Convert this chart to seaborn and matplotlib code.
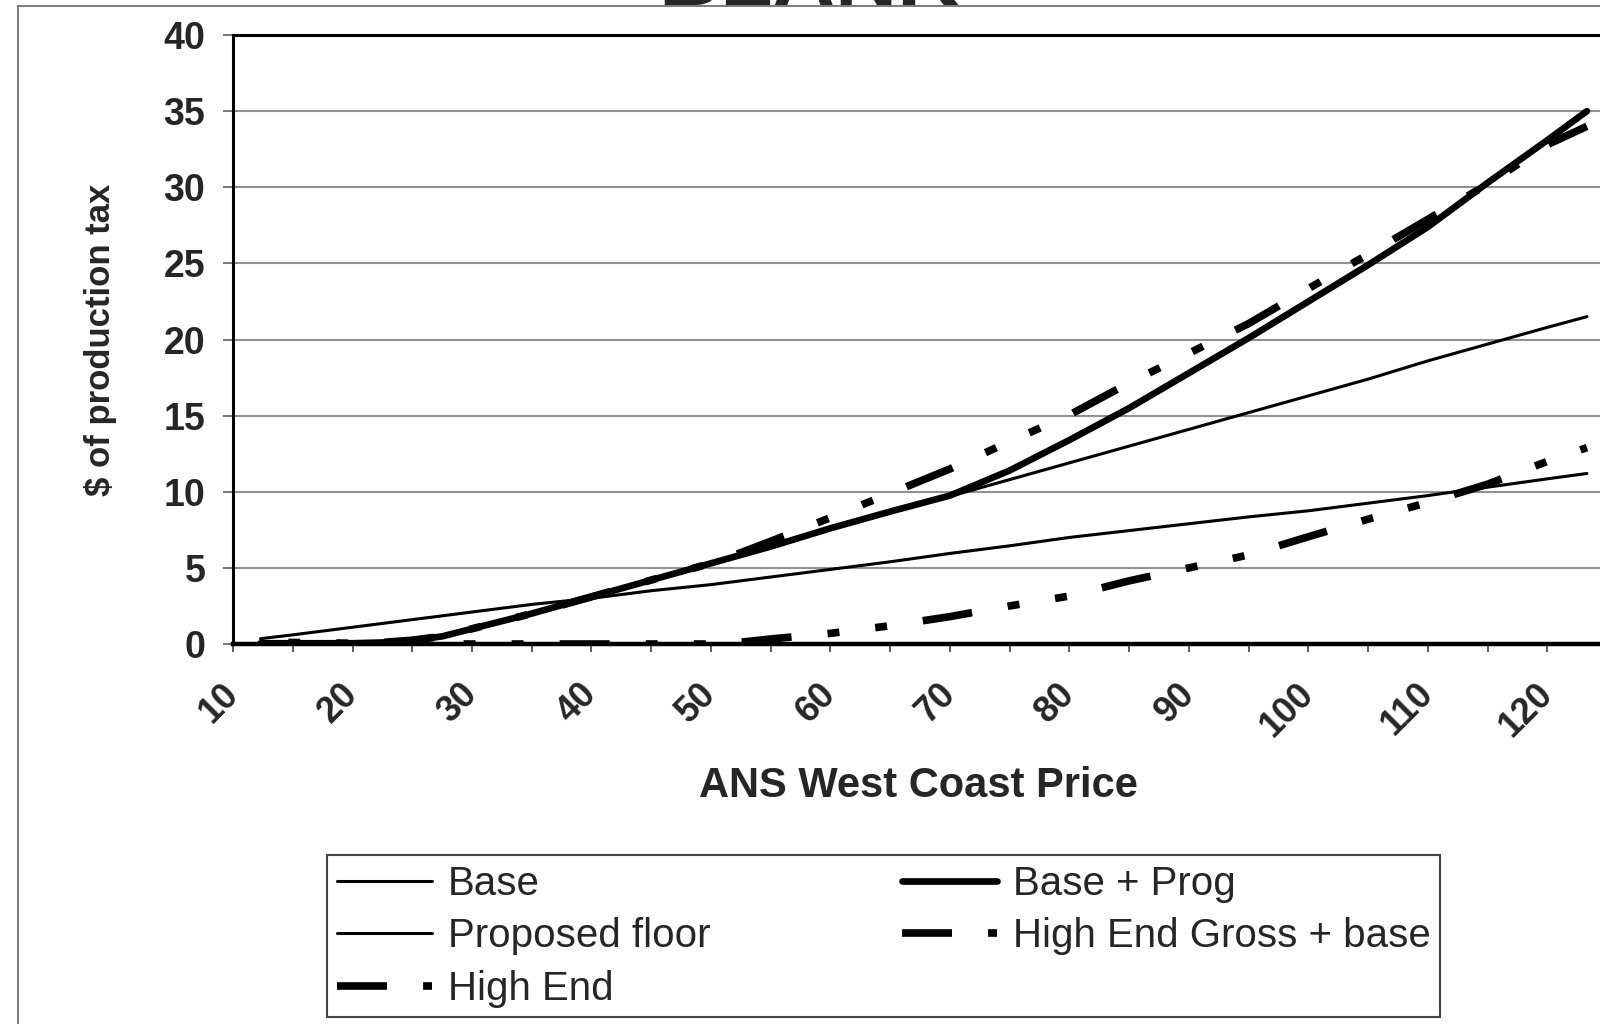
import numpy as np
import matplotlib
matplotlib.use("Agg")
import matplotlib.pyplot as plt
import seaborn as sns
from matplotlib.lines import Line2D

# ANS West Coast price ($/bbl) and production tax ($/bbl) under each scheme
price = [12.3, 15, 20, 22.5, 25, 27.5, 30, 35, 40, 45, 50, 52.5, 55, 60, 65,
         70, 75, 80, 85, 90, 95, 100, 105, 110, 115, 120, 123.3]
base = [0.05, 0.05, 0.05, 0.1, 0.25, 0.5, 1.0, 2.0, 3.1, 4.2, 5.3, 5.85, 6.4,
        7.6, 8.7, 9.7, 10.8, 11.9, 13.0, 14.1, 15.2, 16.3, 17.4, 18.6, 19.7,
        20.8, 21.5]
proposed_floor = [0.35, 0.6, 1.1, 1.35, 1.6, 1.85, 2.1, 2.6, 3.0, 3.5, 3.9,
                  4.15, 4.4, 4.9, 5.4, 5.95, 6.45, 7.0, 7.45, 7.9, 8.35, 8.75,
                  9.25, 9.75, 10.3, 10.85, 11.2]
high_end = [0, 0, 0, 0, 0, 0, 0, 0, 0, 0, 0, 0.12, 0.33, 0.7, 1.2, 1.8, 2.5,
            3.15, 4.15, 5.0, 5.85, 7.05, 8.2, 9.3, 10.5, 12.0, 12.9]
base_prog = [0.05, 0.05, 0.05, 0.1, 0.25, 0.5, 1.0, 2.0, 3.1, 4.2, 5.3, 5.85,
             6.4, 7.6, 8.7, 9.75, 11.4, 13.4, 15.5, 17.8, 20.1, 22.5, 24.9,
             27.4, 30.3, 33.1, 35.0]
high_end_gross_base = [0.15, 0.1, 0.05, 0.1, 0.25, 0.5, 1.0, 2.0, 3.1, 4.2,
                       5.3, 6.0, 6.75, 8.3, 9.9, 11.5, 13.3, 15.05, 17.15,
                       19.1, 21.05, 23.35, 25.6, 27.9, 30.2, 32.8, 34.0]

x_ticks = list(range(10, 121, 10))
y_ticks = list(range(0, 41, 5))

sns.set_style("white")
plt.rcParams["font.family"] = ["Liberation Sans", "DejaVu Sans"]
plt.rcParams["lines.scale_dashes"] = False

W, H = 1600, 1024
fig = plt.figure(figsize=(W / 100, H / 100), dpi=100)


def fx(px):
    return px / W


def fy(py):
    return 1 - py / H


# plot area in pixels (right edge runs past the page)
L, R, T, B = 233, 1640, 35, 644
ax = fig.add_axes([fx(L), fy(B), (R - L) / W, (B - T) / H])
ax.set_xlim(10, 10 + (R - L) / 11.95)
ax.set_ylim(0, 40)

# long dash, dot, dot
dash_dot_dot = (36, 26, 8.6, 26, 8.6, 26)

series = [
    ("Base", base, 2.2, "-"),
    ("Proposed floor", proposed_floor, 2.2, "-"),
    ("Base + Prog", base_prog, 4.8, "-"),
    ("High End", high_end, 5.5, (47, dash_dot_dot)),
    ("High End Gross + base", high_end_gross_base, 5.5, (42, dash_dot_dot)),
]
for name, vals, lw, ls in series:
    sns.lineplot(x=price, y=vals, ax=ax, color="black", lw=lw,
                 linestyle=ls, label=name, legend=False, estimator=None)

# gridlines and frame
ax.yaxis.grid(True, color="#909090", lw=1.5)
ax.xaxis.grid(False)
ax.set_axisbelow(True)
for side in ("left", "top"):
    ax.spines[side].set_color("black")
    ax.spines[side].set_linewidth(2.2)
ax.spines["bottom"].set_color("black")
ax.spines["bottom"].set_linewidth(3.2)
ax.spines["right"].set_visible(False)

ax.set_xticks(x_ticks)
ax.set_xticks([t + 5 for t in x_ticks], minor=True)
ax.tick_params(axis="x", which="both", bottom=True, direction="out",
               length=6, width=1.2, color="#404040")
ax.tick_params(axis="x", which="major", labelsize=26, pad=26)
ax.set_xticklabels([str(t) for t in x_ticks])
for lbl in ax.get_xticklabels():
    lbl.set_rotation(45)
    lbl.set_ha("right")
    lbl.set_va("center")
    lbl.set_rotation_mode("anchor")
    lbl.set_fontweight("bold")

ax.set_yticks(y_ticks)
ax.set_yticklabels([str(t) for t in y_ticks])
ax.tick_params(axis="y", left=True, direction="out", length=7, width=1.2,
               color="#606060", labelsize=27, pad=13)
for lbl in ax.get_yticklabels():
    lbl.set_fontweight("bold")

ax.set_xlabel("ANS West Coast Price", fontsize=30, fontweight="bold")
ax.xaxis.set_label_coords((918 - L) / (R - L), (B - 786) / (B - T))
ax.xaxis.label.set_va("center")
ax.set_ylabel("$ of production tax", fontsize=25, fontweight="bold")
ax.yaxis.set_label_coords((100 - L) / (R - L), (B - 340) / (B - T))
ax.yaxis.label.set_va("center")
ax.yaxis.label.set_ha("center")

# legend: two columns, filled row by row
handles, labels = ax.get_legend_handles_labels()
hmap = dict(zip(labels, handles))
order = ["Base", "Proposed floor", "High End", "Base + Prog",
         "High End Gross + base"]
leg = fig.legend([hmap[o] for o in order], order, loc="upper left",
                 bbox_to_anchor=(fx(327), fy(855)), ncol=2, fontsize=29,
                 frameon=True, fancybox=False, edgecolor="#444444",
                 framealpha=1, borderpad=0.24, handlelength=2.36,
                 handletextpad=0.4, columnspacing=4.75, labelspacing=0.36,
                 borderaxespad=0)
leg.get_frame().set_linewidth(1.5)
for h, name in zip(leg.legend_handles, order):
    if name.startswith("High End"):
        h.set_linestyle((0, dash_dot_dot))

# title, mostly above the page edge
fig.text(fx(809), fy(5), "BLANK", fontsize=62, fontweight="bold",
         ha="center", va="baseline")

# chart area border
fig.add_artist(Line2D([fx(18), 1.0], [fy(6), fy(6)], transform=fig.transFigure,
                      color="#666666", lw=1.2))
fig.add_artist(Line2D([fx(18), fx(18)], [fy(6), 0.0], transform=fig.transFigure,
                      color="#666666", lw=1.2))

fig.savefig("out.png", dpi=100, facecolor="white")
